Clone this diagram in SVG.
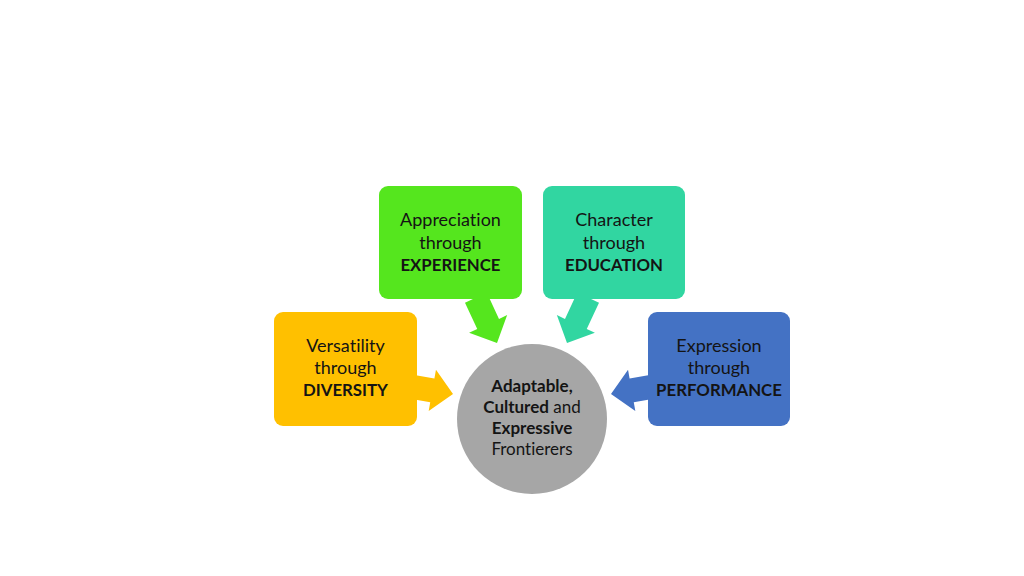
<svg xmlns="http://www.w3.org/2000/svg" width="1024" height="576" viewBox="0 0 1024 576">
<style>
  text { font-family: Lato, "Liberation Sans", sans-serif; fill: #141414; text-anchor: middle; font-variant-ligatures: none; }
  .box { font-size: 18px; }
  .box.b { font-size: 16.8px; }
  .ctr { font-size: 17px; }
  .b { font-weight: bold; }
</style>
<defs>
  <polygon id="arr" points="-50,-12 -21,-12 -21,-21 0,0 -21,21 -21,12 -50,12"/>
</defs>
<rect width="1024" height="576" fill="#ffffff"/>
<g id="connectors">
  <use href="#arr" fill="#FFC000" transform="translate(453,394) rotate(10)"/>
  <use href="#arr" fill="#55E61E" transform="translate(497,343) rotate(65)"/>
  <use href="#arr" fill="#31D6A1" transform="translate(567,343) rotate(115)"/>
  <use href="#arr" fill="#4472C4" transform="translate(611,394) rotate(170)"/>
</g>
<g id="center">
  <circle cx="532" cy="419" r="75" fill="#A6A6A6"/>
  <text class="ctr" x="532" y="392"><tspan class="b">Adaptable,</tspan></text>
  <text class="ctr" x="532" y="413"><tspan class="b">Cultured</tspan> and</text>
  <text class="ctr" x="532" y="434"><tspan class="b">Expressive</tspan></text>
  <text class="ctr" x="532" y="455">Frontierers</text>
</g>
<g id="diversity">
  <rect x="274" y="312" width="143" height="114" rx="9" fill="#FFC000"/>
  <text class="box" x="345.5" y="352">Versatility</text>
  <text class="box" x="345.5" y="374">through</text>
  <text class="box b" x="345.5" y="396">DIVERSITY</text>
</g>
<g id="experience">
  <rect x="379" y="186" width="143" height="113" rx="9" fill="#55E61E"/>
  <text class="box" x="450.5" y="226">Appreciation</text>
  <text class="box" x="450.5" y="249">through</text>
  <text class="box b" x="450.5" y="271">EXPERIENCE</text>
</g>
<g id="education">
  <rect x="543" y="186" width="142" height="113" rx="9" fill="#31D6A1"/>
  <text class="box" x="614" y="226">Character</text>
  <text class="box" x="614" y="249">through</text>
  <text class="box b" x="614" y="271">EDUCATION</text>
</g>
<g id="performance">
  <rect x="648" y="312" width="142" height="114" rx="9" fill="#4472C4"/>
  <text class="box" x="719" y="352">Expression</text>
  <text class="box" x="719" y="374">through</text>
  <text class="box b" x="719" y="396">PERFORMANCE</text>
</g>
</svg>
